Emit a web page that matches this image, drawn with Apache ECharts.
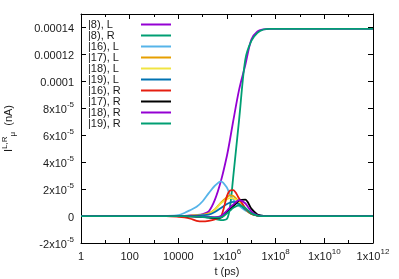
<!DOCTYPE html>
<html>
<head>
<meta charset="utf-8">
<script src="https://cdn.jsdelivr.net/npm/echarts@6/dist/echarts.min.js"></script>
<style>
html,body{margin:0;padding:0;background:#fff;}
#chart{width:399px;height:279px;}
</style>
</head>
<body>
<div id="chart"></div>
<script>
// x positions: log10 of t (ps)
const logT = [0, 2, 3, 3.5, 4, 4.25, 4.5, 4.75, 5, 5.25, 5.5, 5.75, 6, 6.125, 6.25, 6.5, 6.75, 7, 7.25, 7.5, 7.75, 8, 10, 12];

const seriesNames = ['|8), L', '|8), R', '|16), L', '|17), L', '|18), L', '|19), L', '|16), R', '|17), R', '|18), R', '|19), R'];
const seriesColors = ['#9400d3', '#009e73', '#56b4e9', '#e69f00', '#f0e442', '#0072b2', '#e51e10', '#000000', '#9400d3', '#009e73'];

// currents in nA
const i8L  = [0,0,0,0, 0.1e-6,0.2e-6,0.4e-6,0.8e-6,1.5e-6,3.5e-6,12e-6,26e-6,45e-6,57e-6,70e-6,94e-6,112e-6,131e-6,137e-6,138.6e-6,139e-6,139e-6,139e-6,139e-6];
const i8R  = [0,0,0,0,0,-0.1e-6,-0.2e-6,-0.4e-6,-0.7e-6,-1.2e-6,-2e-6,-3e-6,-2e-6,7e-6,28e-6,72e-6,116e-6,130e-6,136e-6,138.5e-6,139e-6,139e-6,139e-6,139e-6];
const i16L = [0,0,0,0.1e-6,0.7e-6,2.3e-6,4.5e-6,6.9e-6,11e-6,17e-6,22.5e-6,25.8e-6,21e-6,15.5e-6,12.5e-6,7.5e-6,4.2e-6,2.2e-6,0.8e-6,0.2e-6,0,0,0,0];
const i17L = [0,0,0,0,0,0.1e-6,0.3e-6,0.6e-6,1e-6,2e-6,5e-6,10e-6,14e-6,15.3e-6,15e-6,10.5e-6,5e-6,1.5e-6,0.4e-6,0,0,0,0,0];
const i18L = [0,0,0,0,0,0.1e-6,0.2e-6,0.5e-6,0.8e-6,1.5e-6,4.5e-6,9.5e-6,12.5e-6,13.3e-6,13.2e-6,10.5e-6,5e-6,1.5e-6,0.4e-6,0,0,0,0,0];
const i19L = [0,0,0,0,0,0,0.1e-6,0.3e-6,0.6e-6,1e-6,3e-6,6e-6,9e-6,10e-6,10.5e-6,9e-6,5e-6,1.8e-6,0.4e-6,0,0,0,0,0];
const i16R = [0,0,0,0,-0.5e-6,-1e-6,-2e-6,-3.5e-6,-4e-6,-3.5e-6,-2.5e-6,-0.5e-6,15e-6,19e-6,19.3e-6,13e-6,6e-6,1.8e-6,0.4e-6,0,0,0,0,0];
const i17R = [0,0,0,0,0,0,-0.2e-6,-0.4e-6,-0.6e-6,-1e-6,-1.5e-6,-1.2e-6,3e-6,5e-6,7e-6,11.5e-6,12.2e-6,5.5e-6,1.2e-6,0.1e-6,0,0,0,0];
const i18R = [0,0,0,0,0,0,-0.1e-6,-0.3e-6,-0.5e-6,-0.7e-6,-0.8e-6,0,4e-6,6.5e-6,8.5e-6,11.8e-6,9.5e-6,3.5e-6,0.6e-6,0,0,0,0,0];
const i19R = [0,0,0,0,0,0,-0.2e-6,-0.4e-6,-0.7e-6,-1e-6,-1.2e-6,-1e-6,2e-6,4e-6,6e-6,8e-6,6e-6,2e-6,0.4e-6,0,0,0,0,0];
const allValues = [i8L, i8R, i16L, i17L, i18L, i19L, i16R, i17R, i18R, i19R];

// tick labels
const xTickValues = [0, 2, 4, 6, 8, 10, 12];
const xTickLabels = ['1', '100', '10000', '1x10^6', '1x10^8', '1x10^10', '1x10^12'];
const yTickValues = [-2e-5, 0, 2e-5, 4e-5, 6e-5, 8e-5, 1e-4, 1.2e-4, 1.4e-4];
const yTickLabels = ['-2x10^-5', '0', '2x10^-5', '4x10^-5', '6x10^-5', '8x10^-5', '0.0001', '0.00012', '0.00014'];

const FONT = '"Liberation Sans", Arial, sans-serif';
const TXT = '#1a1a1a';

function richLabel(s) {
  const p = s.indexOf('^');
  if (p < 0) return '{b|' + s + '}';
  return '{b|' + s.slice(0, p) + '}{s|' + s.slice(p + 1) + '}';
}
const labelRich = {
  b: { fontSize: 11, fontFamily: FONT, color: TXT, lineHeight: 14, verticalAlign: 'bottom' },
  s: { fontSize: 8, fontFamily: FONT, color: TXT, lineHeight: 9, verticalAlign: 'top' }
};

function near(v, arr) {
  for (let i = 0; i < arr.length; i++) {
    if (Math.abs(v - arr[i]) < 1e-9 * Math.max(1, Math.abs(arr[i])) + 1e-12) return i;
  }
  return -1;
}

const series = seriesNames.map((name, k) => ({
  name: name,
  type: 'line',
  xAxisIndex: 0,
  yAxisIndex: 0,
  symbol: 'none',
  smooth: 0.3,
  color: seriesColors[k],
  lineStyle: { width: 1.8, color: seriesColors[k] },
  data: logT.map((x, i) => [x, allValues[k][i]]),
  animation: false
}));

const legendText = { fontSize: 11, fontFamily: FONT, color: TXT, lineHeight: 11 };

const chart = echarts.init(document.getElementById('chart'), null, { renderer: 'canvas' });
chart.setOption({
  backgroundColor: '#ffffff',
  animation: false,
  grid: { left: 81, right: 26, top: 14, bottom: 36, containLabel: false, outerBoundsMode: 'none' },
  legend: [{
    // key labels
    orient: 'vertical',
    left: 83,
    top: 19,
    padding: 0,
    itemGap: 0,
    itemWidth: 0,
    itemHeight: 11,
    icon: 'rect',
    align: 'left',
    selectedMode: false,
    data: seriesNames,
    textStyle: legendText
  }, {
    // key line samples
    orient: 'vertical',
    left: 141,
    top: 19,
    padding: 0,
    itemGap: 0,
    itemWidth: 30,
    itemHeight: 2,
    icon: 'rect',
    align: 'left',
    selectedMode: false,
    data: seriesNames,
    textStyle: Object.assign({}, legendText, { color: 'rgba(0,0,0,0)' })
  }],
  xAxis: [{
    type: 'value', position: 'bottom', min: 0, max: 12, interval: 2,
    name: 't (ps)', nameLocation: 'middle', nameGap: 22,
    nameTextStyle: { fontSize: 11, fontFamily: FONT, color: TXT },
    axisLine: { show: true, onZero: false, lineStyle: { color: '#000', width: 1 } },
    axisTick: { show: true, inside: true, length: 5, lineStyle: { color: '#000' } },
    minorTick: { show: true, splitNumber: 2, length: 3, lineStyle: { color: '#000' } },
    splitLine: { show: false },
    axisLabel: {
      margin: 5,
      formatter: v => { const i = near(v, xTickValues); return i < 0 ? '' : richLabel(xTickLabels[i]); },
      rich: labelRich
    }
  }, {
    type: 'value', position: 'top', min: 0, max: 12, interval: 2,
    axisLine: { show: true, onZero: false, lineStyle: { color: '#000', width: 1 } },
    axisTick: { show: true, inside: true, length: 5, lineStyle: { color: '#000' } },
    minorTick: { show: true, splitNumber: 2, length: 3, lineStyle: { color: '#000' } },
    splitLine: { show: false },
    axisLabel: { show: false }
  }],
  yAxis: [{
    type: 'value', position: 'left', min: -2e-5, max: 1.5e-4, interval: 2e-5,
    name: '{i|I}{sup|L,R}{sub|μ}{n|  (nA)}',
    nameLocation: 'middle', nameRotate: 90, nameGap: 64,
    nameTextStyle: {
      rich: {
        i: { fontSize: 11, fontFamily: FONT, color: TXT, lineHeight: 16, verticalAlign: 'middle' },
        sup: { fontSize: 8, fontFamily: FONT, color: TXT, lineHeight: 7, verticalAlign: 'top' },
        sub: { fontSize: 8, fontFamily: FONT, color: TXT, lineHeight: 7, verticalAlign: 'bottom' },
        n: { fontSize: 11, fontFamily: FONT, color: TXT, lineHeight: 16, verticalAlign: 'middle' }
      }
    },
    axisLine: { show: true, onZero: false, lineStyle: { color: '#000', width: 1 } },
    axisTick: { show: true, inside: true, length: 5, lineStyle: { color: '#000' } },
    splitLine: { show: false },
    axisLabel: {
      margin: 7,
      showMaxLabel: false,
      formatter: v => { const i = near(v, yTickValues); return i < 0 ? '' : richLabel(yTickLabels[i]); },
      rich: labelRich
    }
  }, {
    type: 'value', position: 'right', min: -2e-5, max: 1.5e-4, interval: 2e-5,
    axisLine: { show: true, onZero: false, lineStyle: { color: '#000', width: 1 } },
    axisTick: { show: true, inside: true, length: 5, lineStyle: { color: '#000' } },
    splitLine: { show: false },
    axisLabel: { show: false }
  }],
  series: series
});
</script>
</body>
</html>
